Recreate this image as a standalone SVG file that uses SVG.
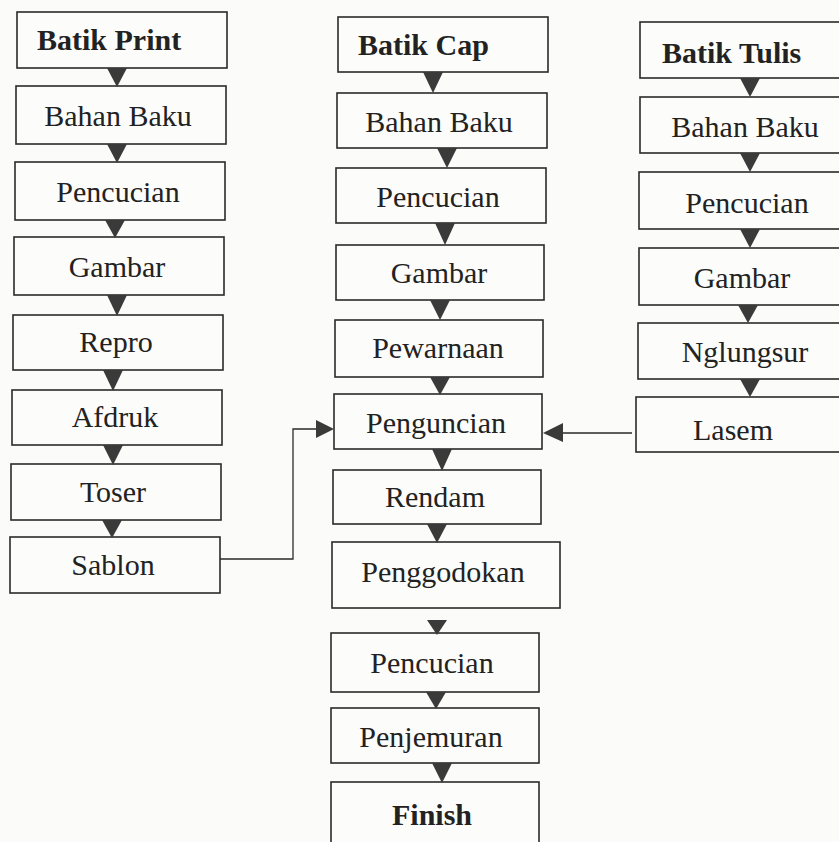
<svg xmlns="http://www.w3.org/2000/svg" width="839" height="842" viewBox="0 0 839 842">
<style>
.bg{fill:#fbfbf9}
.box{fill:#fcfcfa;stroke:#2a2a2a;stroke-width:1.6}
.t{font-family:"Liberation Serif","Times New Roman",serif;font-size:30px;fill:#222;text-anchor:middle}
.b{font-family:"Liberation Serif","Times New Roman",serif;font-size:30px;font-weight:bold;fill:#222}
.ah{fill:#3a3a3a}
.ln{fill:none;stroke:#2a2a2a;stroke-width:1.3}
</style>
<rect class="bg" x="0" y="0" width="839" height="842"/>

<g id="print-col">
<g id="p1"><rect class="box" x="17" y="12" width="210" height="56"/><text class="b" x="37" y="50">Batik Print</text></g>
<g id="p2"><rect class="box" x="16" y="86" width="210" height="58"/><text class="t" x="118" y="126">Bahan Baku</text></g>
<g id="p3"><rect class="box" x="15" y="162" width="210" height="58"/><text class="t" x="118" y="202">Pencucian</text></g>
<g id="p4"><rect class="box" x="14" y="237" width="210" height="58"/><text class="t" x="117" y="277">Gambar</text></g>
<g id="p5"><rect class="box" x="13" y="315" width="210" height="55"/><text class="t" x="116" y="352">Repro</text></g>
<g id="p6"><rect class="box" x="12" y="390" width="210" height="55"/><text class="t" x="115" y="427">Afdruk</text></g>
<g id="p7"><rect class="box" x="11" y="464" width="210" height="56"/><text class="t" x="113" y="502">Toser</text></g>
<g id="p8"><rect class="box" x="10" y="537" width="210" height="56"/><text class="t" x="113" y="575">Sablon</text></g>
</g>

<g id="cap-col">
<g id="c1"><rect class="box" x="338" y="17" width="210" height="55"/><text class="b" x="358" y="55">Batik Cap</text></g>
<g id="c2"><rect class="box" x="337" y="93" width="210" height="55"/><text class="t" x="439" y="132">Bahan Baku</text></g>
<g id="c3"><rect class="box" x="336" y="168" width="210" height="55"/><text class="t" x="438" y="207">Pencucian</text></g>
<g id="c4"><rect class="box" x="336" y="245" width="208" height="55"/><text class="t" x="439" y="283">Gambar</text></g>
<g id="c5"><rect class="box" x="335" y="320" width="208" height="57"/><text class="t" x="438" y="358">Pewarnaan</text></g>
<g id="c6"><rect class="box" x="334" y="394" width="208" height="55"/><text class="t" x="436" y="433">Penguncian</text></g>
<g id="c7"><rect class="box" x="333" y="470" width="208" height="54"/><text class="t" x="435" y="507">Rendam</text></g>
<g id="c8"><rect class="box" x="332" y="542" width="228" height="66"/><text class="t" x="443" y="582">Penggodokan</text></g>
<g id="c9"><rect class="box" x="331" y="633" width="208" height="59"/><text class="t" x="432" y="673">Pencucian</text></g>
<g id="c10"><rect class="box" x="331" y="708" width="208" height="55"/><text class="t" x="431" y="747">Penjemuran</text></g>
<g id="c11"><rect class="box" x="331" y="782" width="208" height="70"/><text class="b" x="432" y="825" text-anchor="middle">Finish</text></g>
</g>

<g id="tulis-col">
<g id="r1"><rect class="box" x="640" y="22" width="210" height="56"/><text class="b" x="662" y="63">Batik Tulis</text></g>
<g id="r2"><rect class="box" x="640" y="97" width="210" height="56"/><text class="t" x="745" y="137">Bahan Baku</text></g>
<g id="r3"><rect class="box" x="639" y="172" width="210" height="57"/><text class="t" x="747" y="213">Pencucian</text></g>
<g id="r4"><rect class="box" x="639" y="248" width="210" height="57"/><text class="t" x="742" y="288">Gambar</text></g>
<g id="r5"><rect class="box" x="638" y="323" width="210" height="56"/><text class="t" x="745" y="362">Nglungsur</text></g>
<g id="r6"><rect class="box" x="636" y="397" width="210" height="55"/><text class="t" x="733" y="440">Lasem</text></g>
</g>

<g id="connectors">
<polygon class="ah" points="107,68 127,68 117,87"/>
<polygon class="ah" points="107,144 127,144 117,163"/>
<polygon class="ah" points="105,220 125,220 115,238"/>
<polygon class="ah" points="107,295 127,295 117,316"/>
<polygon class="ah" points="103,370 123,370 113,391"/>
<polygon class="ah" points="103,445 123,445 113,465"/>
<polygon class="ah" points="102,520 122,520 112,538"/>

<polygon class="ah" points="423,72 443,72 433,93"/>
<polygon class="ah" points="437,148 457,148 447,168"/>
<polygon class="ah" points="435,223 455,223 445,245"/>
<polygon class="ah" points="430,300 450,300 440,320"/>
<polygon class="ah" points="430,377 450,377 440,395"/>
<polygon class="ah" points="432,449 452,449 442,471"/>
<polygon class="ah" points="427,524 447,524 437,543"/>
<polygon class="ah" points="427,620 447,620 437,635"/>
<polygon class="ah" points="426,692 446,692 436,709"/>
<polygon class="ah" points="432,763 452,763 442,783"/>

<polygon class="ah" points="740,78 760,78 750,97"/>
<polygon class="ah" points="740,153 760,153 750,172"/>
<polygon class="ah" points="740,229 760,229 750,248"/>
<polygon class="ah" points="738,305 758,305 748,323"/>
<polygon class="ah" points="740,379 760,379 750,397"/>

<polyline class="ln" points="220,559 293,559 293,429 316,429"/>
<polygon class="ah" points="316,420 316,438 334,429"/>
<line class="ln" x1="632" y1="433" x2="563" y2="433"/>
<polygon class="ah" points="563,423 563,442 543,433"/>
</g>
</svg>
